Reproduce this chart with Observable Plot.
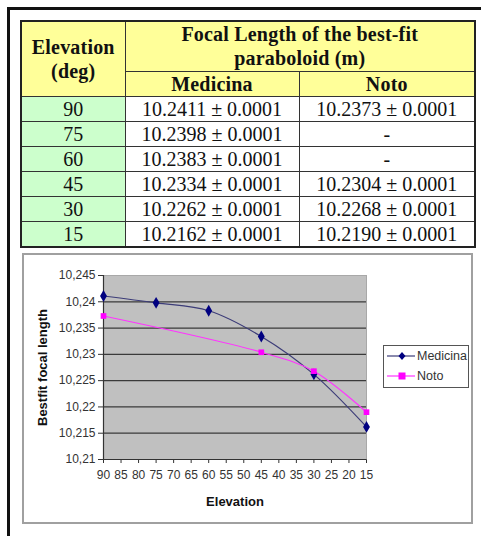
<!DOCTYPE html>
<html>
<head>
<meta charset="utf-8">
<script src="https://cdn.jsdelivr.net/npm/d3@7"></script>
<script src="https://cdn.jsdelivr.net/npm/@observablehq/plot@0.6"></script>
<style>
  html, body { margin: 0; padding: 0; background: #fff; }
  body { width: 481px; height: 536px; position: relative; overflow: hidden; }
  #outer { position: absolute; left: 7px; top: 7px; width: 480px; height: 540px;
           border-left: 3px solid #111; border-top: 3px solid #111; }
  table { position: absolute; left: 20px; top: 20px; width: 454px; border-collapse: collapse;
          font-family: "Liberation Serif", "Times New Roman", serif; color: #111;
          border: 2px solid #222; table-layout: fixed; }
  td, th { border: 1px solid #333; padding: 0; text-align: center; vertical-align: middle; }
  th { background: #ffff99; font-weight: bold; font-size: 20px; line-height: 24px; letter-spacing: 0.2px; }
  td { font-size: 20px; line-height: 24px; height: 24px; background: #fff; }
  td.elev { background: #ccffcc; }
  #frame { position: absolute; left: 22px; top: 253px; width: 451px; height: 271px;
           box-sizing: border-box; border: 2px solid #a0a0a0; background: #fff; }
  #frame svg { position: absolute; left: 0; top: 0; }
  g[aria-label="x-axis label"] text, g[aria-label="y-axis label"] text { font-weight: bold; font-size: 13px; fill: #111; }
  #legend { position: absolute; left: 383px; top: 345px; width: 86px; height: 43px; box-sizing: border-box;
            border: 1px solid #555; background: #fff; font-family: "Liberation Sans", Arial, sans-serif;
            font-size: 12.5px; color: #333; }
  .lrow { position: absolute; left: 3px; height: 14px; display: flex; align-items: center; }
  .lrow svg { margin-right: 2px; }
</style>
</head>
<body>
<div id="outer"></div>
<div id="tableHolder"></div>
<div id="frame"></div>
<div id="legend"></div>
<script>
// ---- data ----
const elevations = [90, 75, 60, 45, 30, 15];
const medicina = [10.2411, 10.2398, 10.2383, 10.2334, 10.2262, 10.2162];
const noto = [10.2373, null, null, 10.2304, 10.2268, 10.2190];
const uncertainty = "0.0001";
const seriesNames = ["Medicina", "Noto"];
const seriesColors = ["#000080", "#ff00ff"];
const lineColors = ["#3c3c78", "#ff33ff"];
const xTicks = [90, 85, 80, 75, 70, 65, 60, 55, 50, 45, 40, 35, 30, 25, 20, 15];
const yTicks = [10.21, 10.215, 10.22, 10.225, 10.23, 10.235, 10.24, 10.245];
const gridTicks = [10.215, 10.22, 10.225, 10.23, 10.235, 10.24];

// ---- table ----
const fmt = v => v == null ? "-" : v.toFixed(4) + " \u00b1 " + uncertainty;
let html = '<table><colgroup><col style="width:104px"><col style="width:174px"><col style="width:176px"></colgroup>';
html += '<tr style="height:50px"><th rowspan="2">Elevation<br>(deg)</th><th colspan="2">Focal Length of the best-fit<br>paraboloid (m)</th></tr>';
html += '<tr style="height:25px"><th>' + seriesNames[0] + '</th><th>' + seriesNames[1] + '</th></tr>';
elevations.forEach((e, i) => {
  html += '<tr style="height:25px"><td class="elev">' + e + '</td><td>' + fmt(medicina[i]) + '</td><td>' + fmt(noto[i]) + '</td></tr>';
});
html += '</table>';
document.getElementById("tableHolder").innerHTML = html;

// ---- chart ----
const medData = elevations.map((e, i) => ({elev: e, f: medicina[i]}));
const notoData = elevations.map((e, i) => ({elev: e, f: noto[i]})).filter(d => d.f != null);

const chart = Plot.plot({
  width: 447,
  height: 267,
  marginLeft: 79,
  marginRight: 105,
  marginTop: 20,
  marginBottom: 63,
  style: {fontFamily: "'Liberation Sans', Arial, sans-serif", fontSize: "12px", color: "#333", background: "transparent"},
  x: {domain: [90, 15], ticks: xTicks, tickSize: 4, tickPadding: 7, label: "Elevation", labelAnchor: "center", labelOffset: 46, labelArrow: "none"},
  y: {domain: [10.21, 10.245], ticks: yTicks, tickSize: 5, tickPadding: 3,
      tickFormat: d => String(d).replace(".", ","), label: "Bestfit focal length", labelAnchor: "center", labelOffset: 66, labelArrow: "none"},
  marks: [
    Plot.frame({fill: "#c0c0c0", stroke: null}),
    Plot.ruleY([10.245], {stroke: "#a8a8a8"}),
    Plot.ruleY(gridTicks, {stroke: "#3a3a3a", strokeWidth: 1.3}),
    Plot.ruleX([15], {stroke: "#a8a8a8"}),
    Plot.ruleX([90], {stroke: "#333", strokeWidth: 1.2}),
    Plot.ruleY([10.21], {stroke: "#333", strokeWidth: 1.2}),
    Plot.line(medData, {x: "elev", y: "f", curve: "catmull-rom", stroke: lineColors[0], strokeWidth: 1.2}),
    Plot.line(notoData, {x: "elev", y: "f", curve: "catmull-rom", stroke: lineColors[1], strokeWidth: 1.2}),
    Plot.dot(medData, {x: "elev", y: "f", symbol: "diamond", r: 3.6, fill: seriesColors[0]}),
    Plot.dot(notoData, {x: "elev", y: "f", symbol: "square", r: 3.2, fill: seriesColors[1]})
  ]
});
document.getElementById("frame").appendChild(chart);

// ---- legend ----
const legend = document.getElementById("legend");
seriesNames.forEach((name, i) => {
  const row = document.createElement("div");
  row.className = "lrow";
  row.style.top = (i === 0 ? 3 : 23) + "px";
  const sym = i === 0
    ? '<path d="M15,3 L18.5,7 L15,11 L11.5,7 Z" fill="' + seriesColors[i] + '"/>'
    : '<rect x="11.5" y="3.5" width="7" height="7" fill="' + seriesColors[i] + '"/>';
  row.innerHTML = '<svg width="28" height="14"><line x1="0" y1="7" x2="28" y2="7" stroke="' + lineColors[i] + '" stroke-width="1.2"/>' + sym + '</svg><span>' + name + '</span>';
  legend.appendChild(row);
});
</script>
</body>
</html>
